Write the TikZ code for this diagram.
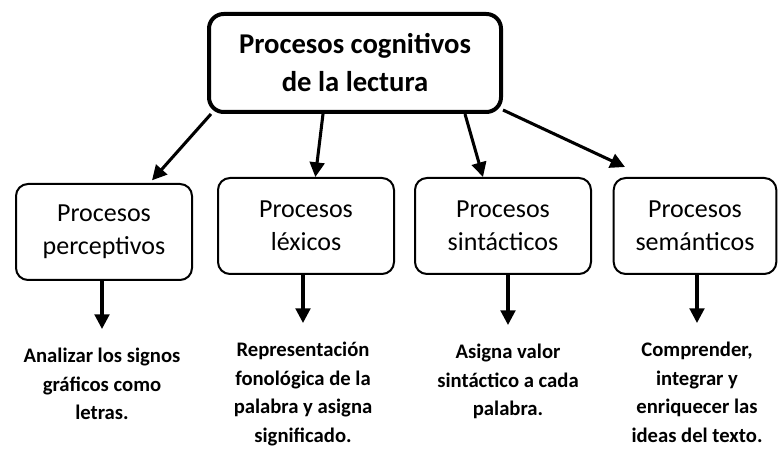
\documentclass[tikz,border=0pt]{standalone}
\usepackage{fontspec}
\setmainfont{Carlito}
\usetikzlibrary{arrows.meta}

\tikzset{
  main/.style={draw, line width=3pt, rounded corners=11pt, minimum width=219pt, minimum height=73.5pt,
    align=center, font=\bfseries\fontsize{21.5}{28.5}\selectfont},
  proc/.style={draw, line width=1.5pt, rounded corners=9pt, minimum width=132pt, minimum height=72pt,
    align=center, font=\fontsize{19.5}{24.75}\selectfont},
  desc/.style={anchor=north, align=center, inner ysep=14pt, font=\bfseries\fontsize{15.5}{21.5}\selectfont},
  arr/.style={line width=2.3pt, -{Triangle[length=11pt,width=11pt]}}
}

\begin{document}
\begin{tikzpicture}[x=0.75pt, y=-0.75pt]
                    \useasboundingbox (0,0) rectangle (778,459);
                    % Titulo
                    \node[main] (top) at (355,63) {Procesos cognitivos\\de la lectura};
                    % Procesos
                    \node[proc] (p1) at (104,232) {Procesos\\perceptivos};
                    \node[proc] (p2) at (306,226) {Procesos\\léxicos};
                    \node[proc] (p3) at (503,226) {Procesos\\sintácticos};
                    \node[proc, minimum width=122pt] (p4) at (695,226) {Procesos\\semánticos};
                    % Descripciones
                    \node[desc] (d1) at (102,329) {Analizar los signos\\gráficos como\\letras.};
                    \node[desc] (d2) at (303,323) {Representación\\fonológica de la\\palabra y asigna\\significado.};
                    \node[desc] (d3) at (508,325) {Asigna valor\\sintáctico a cada\\palabra.};
                    \node[desc] (d4) at (697,323) {Comprender,\\integrar y\\enriquecer las\\ideas del texto.};
                    % Flechas
                    \draw[arr] ([xshift=3pt]top.south west) -- ([xshift=36pt,yshift=2pt]p1.north);
                    \draw[arr] ([xshift=-24pt]top.south) -- ([xshift=7pt]p2.north);
                    \draw[arr] ([xshift=82.5pt]top.south) -- ([xshift=-15pt]p3.north);
                    \draw[arr] ([yshift=3pt]top.south east) -- ([xshift=-52.5pt,yshift=7.5pt]p4.north);
                    \draw[arr] (d1.north |- p1.south) -- (d1.north);
                    \draw[arr] (d2.north |- p2.south) -- (d2.north);
                    \draw[arr] (d3.north |- p3.south) -- (d3.north);
                    \draw[arr] (d4.north |- p4.south) -- (d4.north);
                \end{tikzpicture}
\end{document}
